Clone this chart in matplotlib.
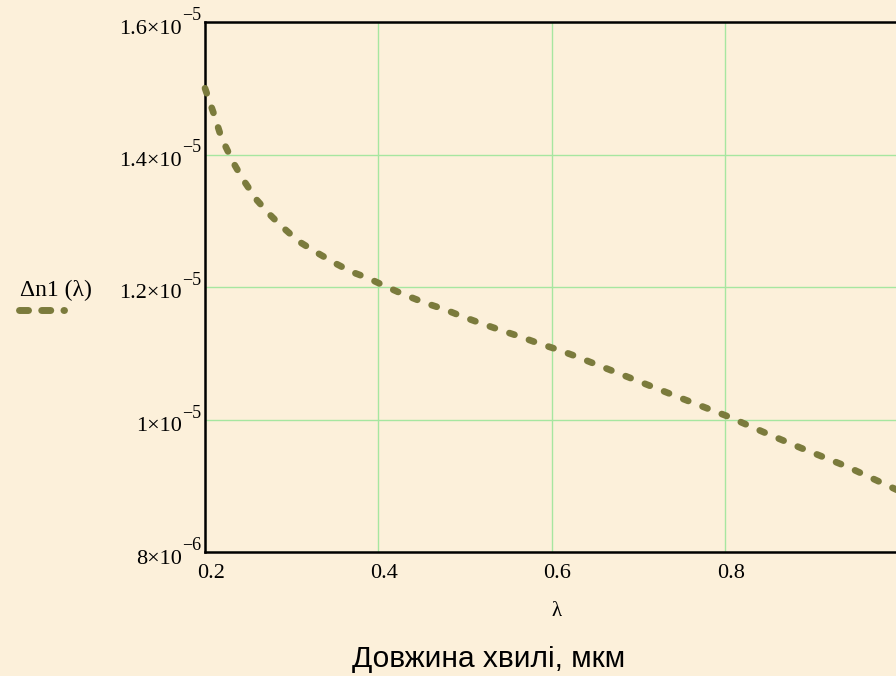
import numpy as np
import matplotlib
matplotlib.use("Agg")
import matplotlib.pyplot as plt
from matplotlib.lines import Line2D
from matplotlib.ticker import FixedLocator
from matplotlib.transforms import offset_copy

# values (dn in units of 1e-5)
lam = [0.200, 0.210, 0.219, 0.233, 0.244, 0.260, 0.275, 0.289, 0.308, 0.329,
       0.350, 0.369, 0.389, 0.410, 0.429, 0.454, 0.477, 0.498, 0.519, 0.541,
       0.564, 0.585, 0.606, 0.627, 0.648, 0.700, 0.750, 0.803, 0.850, 0.888,
       0.941, 1.000]
dn = [1.500, 1.462, 1.425, 1.387, 1.362, 1.331, 1.309, 1.291, 1.269, 1.252,
      1.236, 1.223, 1.213, 1.200, 1.189, 1.176, 1.166, 1.155, 1.145, 1.135,
      1.125, 1.115, 1.106, 1.096, 1.085, 1.058, 1.032, 1.005, 0.978, 0.957,
      0.929, 0.893]

xticks = [0.2, 0.4, 0.6, 0.8]
xlabels = ['0.2', '0.4', '0.6', '0.8']
yticks = [8e-6, 1.0e-5, 1.2e-5, 1.4e-5, 1.6e-5]
ybase = ['8×10', '1×10', '1.2×10', '1.4×10', '1.6×10']
yexp = ['−6', '−5', '−5', '−5', '−5']

bg = '#fcf0da'
olive = '#7b7b3c'
grid_c = '#a6e6a0'
PX = 0.72  # points per pixel at dpi 100

fig = plt.figure(figsize=(8.96, 6.76), dpi=100, facecolor=bg)
# right edge of the plot box sits just past the picture edge
ax = fig.add_axes([205/896, 1-552/676, 693/896, 530/676])
ax.set_facecolor(bg)
ax.patch.set_alpha(0)

y = np.array(dn) * 1e-5
ax.plot(lam, y, color=olive, lw=4.8, linestyle=(0, (0.8, 2.3)),
        dash_capstyle='round', clip_on=False, zorder=3)

ax.set_xlim(0.2, 1.0)
ax.set_ylim(8e-6, 1.6e-5)
ax.xaxis.set_major_locator(FixedLocator(xticks + [1.0]))
ax.yaxis.set_major_locator(FixedLocator(yticks))
ax.tick_params(length=0, labelbottom=False, labelleft=False)
ax.grid(True, color=grid_c, lw=1)
for s in ax.spines.values():
    s.set_linewidth(1.8)
    s.set_color('black')

# tick labels in the Mathcad style: big exponent next to the mantissa
ytr = ax.get_yaxis_transform()
for v, b, e in zip(yticks, ybase, yexp):
    ax.text(0, v, b, transform=offset_copy(ytr, fig=fig, x=-23*PX, y=-11.5*PX, units='points'),
            ha='right', va='baseline', family='Liberation Serif', fontsize=16)
    ax.text(0, v, e, transform=offset_copy(ytr, fig=fig, x=-22.5*PX, y=2*PX, units='points'),
            ha='left', va='baseline', family='Liberation Serif', fontsize=13)

xtr = ax.get_xaxis_transform()
for v, t in zip(xticks, xlabels):
    ax.text(v, 0, t, transform=offset_copy(xtr, fig=fig, x=6*PX, y=-21*PX, units='points'),
            ha='center', va='center', family='Liberation Serif', fontsize=16)

fig.text(557/896, 1-611/676, 'λ', ha='center', va='center',
         family='Liberation Serif', fontsize=15)
fig.text(489/896, 1-667/676, 'Довжина хвилі, мкм', ha='center', va='baseline',
         family='Liberation Sans', fontsize=21.5)

# legend at the left
fig.text(56/896, 1-290/676, 'Δn1 (λ)', ha='center', va='center',
         family='Liberation Serif', fontsize=17)
fig.add_artist(Line2D([18.5/896, 63.5/896], [1-310/676, 1-310/676],
                      transform=fig.transFigure, color=olive, lw=5,
                      linestyle=(0, (1.3, 1.9)), dash_capstyle='round'))

fig.savefig('out.png', dpi=100, facecolor=bg)
